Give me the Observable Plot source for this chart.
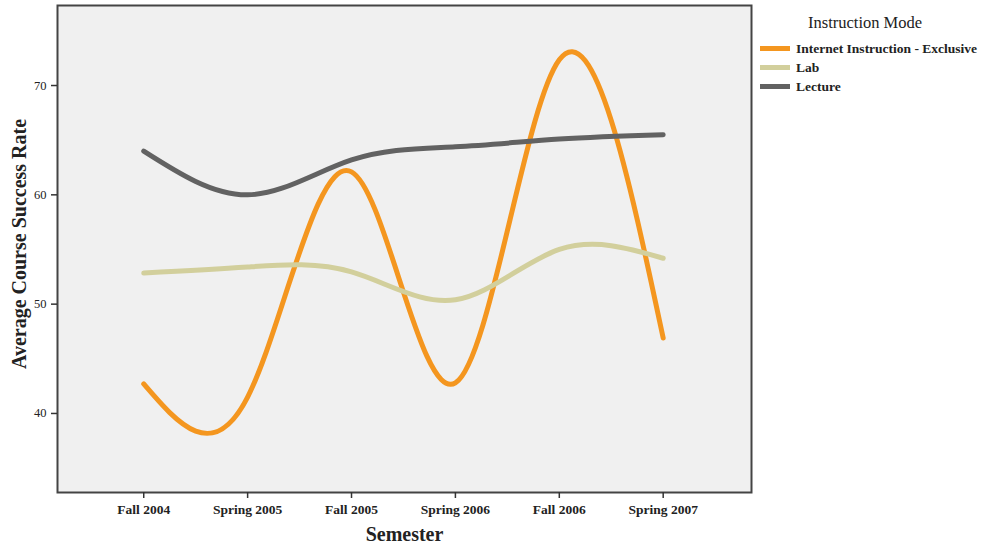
<!DOCTYPE html>
<html>
<head>
<meta charset="utf-8">
<script src="https://cdn.jsdelivr.net/npm/d3@7"></script>
<script src="https://cdn.jsdelivr.net/npm/@observablehq/plot@0.6"></script>
<style>
  html, body { margin: 0; padding: 0; background: #ffffff; }
  #wrap { position: relative; width: 984px; height: 546px; }
  #legend { position: absolute; left: 760px; top: 13px; font-family: "Liberation Serif", serif; color: #222; }
  #legend .title { font-size: 16.5px; margin-left: 48px; margin-bottom: 6px; white-space: nowrap; }
  #legend .item { display: flex; align-items: center; height: 19px; font-size: 13.5px; font-weight: bold; white-space: nowrap; }
  #legend .sw { width: 30px; height: 5px; margin-right: 6px; }
</style>
</head>
<body>
<div id="wrap"><div id="legend"></div></div>
<script>
const semesters = ["Fall 2004", "Spring 2005", "Fall 2005", "Spring 2006", "Fall 2006", "Spring 2007"];
const modes = ["Internet Instruction - Exclusive", "Lab", "Lecture"];
const colors = ["#f4961f", "#d2cf9c", "#626262"];
const internet = [42.7, 41.5, 62.1, 42.8, 72.35, 46.9];
const lab = [52.85, 53.4, 52.95, 50.4, 55.0, 54.2];
const lecture = [64.0, 60.0, 63.2, 64.4, 65.1, 65.5];
const yTicks = [40, 50, 60, 70];

const seriesValues = [internet, lab, lecture];
const rows = [];
modes.forEach((m, k) => seriesValues[k].forEach((v, i) => rows.push({mode: m, i, value: v})));

const chart = Plot.plot({
  width: 984,
  height: 546,
  marginLeft: 57,
  marginRight: 233,
  marginTop: 5,
  marginBottom: 54,
  style: {fontFamily: "Liberation Serif, serif", background: "transparent", color: "#222"},
  x: {domain: [-0.83, 5.85]},
  y: {domain: [32.77, 77.32]},
  color: {domain: modes, range: colors},
  marks: [
    Plot.frame({fill: "#f0f0f0", stroke: "#444", strokeWidth: 2}),
    Plot.axisX({ticks: d3.range(semesters.length), tickFormat: i => semesters[i], tickSize: 6, tickPadding: 6, fontSize: 13.5, fontWeight: "bold", label: null, stroke: "#333", strokeWidth: 1.5}),
    Plot.axisY({ticks: yTicks, tickSize: 6, tickPadding: 5, fontSize: 12.5, label: null, stroke: "#333", strokeWidth: 1.5}),
    Plot.text(["Average Course Success Rate"], {frameAnchor: "left", textAnchor: "middle", dx: -38, dy: -5, rotate: -90, fontSize: 20, fontWeight: "bold"}),
    Plot.text(["Semester"], {frameAnchor: "bottom", dy: 48, fontSize: 20, fontWeight: "bold"}),
    Plot.line(rows, {x: "i", y: "value", z: "mode", stroke: "mode", strokeWidth: 5, curve: "natural"})
  ]
});
document.getElementById("wrap").prepend(chart);

const legend = document.getElementById("legend");
legend.innerHTML = `<div class="title">Instruction Mode</div>` +
  modes.map((m, k) => `<div class="item"><span class="sw" style="background:${colors[k]}"></span>${m}</div>`).join("");
</script>
</body>
</html>
